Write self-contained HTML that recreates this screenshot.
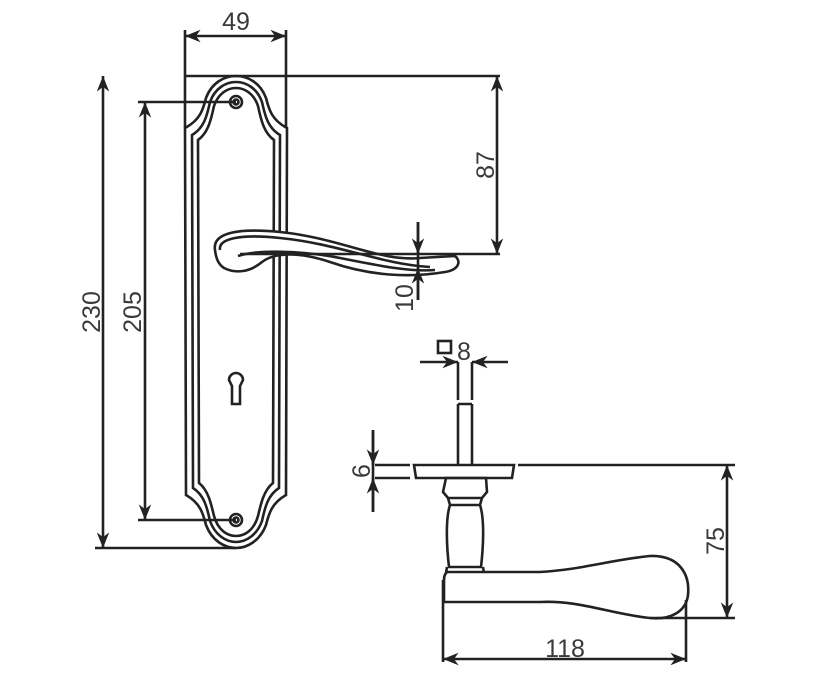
<!DOCTYPE html>
<html><head><meta charset="utf-8"><style>body{margin:0;background:#fff}svg{display:block}text{font-family:"Liberation Sans",sans-serif;font-size:25px;fill:#3a3a3a}</style></head><body>
<svg width="816" height="681" viewBox="0 0 816 681" xmlns="http://www.w3.org/2000/svg">
<defs><marker id="a" viewBox="0 0 10 10" refX="10" refY="5" markerWidth="6" markerHeight="6" orient="auto-start-reverse"><path d="M0,1 L10,5 L0,9 L3,5Z" fill="#222"/></marker></defs>
<g stroke="#222" stroke-width="2.6" fill="none">
<path d="M185,128 C200,120 203,110 206,98 C212,82 225,76 236,76 C247,76 260,82 266,98 C269,110 272,120 287,128 L286,495 C272,503 269,513 266,525 C260,541 247,548 236,548 C225,548 212,541 206,525 C203,513 200,503 186,495 Z"/>
<path d="M192,135 C204,128 207,116 210,102 C215,88 226,82 236,82 C246,82 257,88 262,102 C265,116 268,128 280,135 L279,488 C268,495 265,507 262,521 C257,535 246,542 236,542 C226,542 215,535 210,521 C207,507 204,495 193,488 Z"/>
<path d="M198,140 C208,133 211,120 214,106 C218,94 227,88 236,88 C245,88 254,94 258,106 C261,120 264,133 274,140 L273,483 C264,490 261,503 258,516 C254,530 245,536 236,536 C227,536 218,530 214,516 C211,503 208,490 199,483 Z"/>
<circle cx="236" cy="102" r="6"/><circle cx="236" cy="102" r="2.5"/>
<circle cx="236" cy="520" r="6"/><circle cx="236" cy="520" r="2.5"/>
<path d="M229,380 A7,7 0 1 1 243,380 L240,386 L240,404 L232,404 L232,386 Z"/>
<path d="M215,250 C212,232 240,228 280,232 C340,238 380,262 420,258 L455,256 C462,262 458,270 445,272 C410,278 370,276 330,262 C300,252 275,252 262,262 C250,272 236,274 224,268 C218,264 216,258 215,250Z" fill="#fff"/>
<path d="M220,250 C218,238 242,234 280,238 C340,244 380,264 430,267"/>
<path d="M238,256 C255,250 300,250 340,258 C380,266 410,272 435,270"/>
<path d="M185,30 V128 M286,30 V128 M185,76 H500 M95,548 H236 M138,102 H236 M138,520 H236 M240,254 H500 M418,222 V300"/>
<path d="M185,36 H286" marker-start="url(#a)" marker-end="url(#a)"/>
<path d="M103,76 V548" marker-start="url(#a)" marker-end="url(#a)"/>
<path d="M145,102 V520" marker-start="url(#a)" marker-end="url(#a)"/>
<path d="M497,76 V254" marker-start="url(#a)" marker-end="url(#a)"/>
<path d="M418,222 V254" marker-end="url(#a)"/><path d="M418,300 V268" marker-end="url(#a)"/>
<path d="M458,362 V400 M472,362 V400 M458,404 V465 M472,404 V465 M458,404 H472"/>
<path d="M420,362 H458" marker-end="url(#a)"/><path d="M508,362 H472" marker-end="url(#a)"/>
<rect x="438" y="341" width="13" height="12"/>
<path d="M414,465 H514 L512,478 H416 Z"/>
<path d="M375,465 H410 M375,478 H410 M518,465 H735 M373,430 V512"/>
<path d="M373,430 V465" marker-end="url(#a)"/><path d="M373,512 V478" marker-end="url(#a)"/>
<path d="M446,478 H486 L487,492 L482,498 H448 L443,492 Z"/>
<path d="M448,498 L450,505 H480 L482,498 M450,505 C445,520 447,550 449,567 H481 C483,550 485,520 480,505"/>
<path d="M447,567 L446,573 M483,567 L484,573"/>
<path d="M448,572 H540 C580,570 610,560 650,556 C680,555 690,575 688,595 C686,612 670,620 650,618 C610,614 580,600 540,602 H444 V580 C444,575 446,572 448,572Z"/>
<path d="M443,580 V662 M686,600 V662 M650,618 H735"/>
<path d="M443,659 H686" marker-start="url(#a)" marker-end="url(#a)"/>
<path d="M727,465 V618" marker-start="url(#a)" marker-end="url(#a)"/>
</g>
<text x="236" y="30" text-anchor="middle">49</text>
<text transform="translate(100,312) rotate(-90)" text-anchor="middle">230</text>
<text transform="translate(141,312) rotate(-90)" text-anchor="middle">205</text>
<text transform="translate(494,165) rotate(-90)" text-anchor="middle">87</text>
<text transform="translate(413,298) rotate(-90)" text-anchor="middle">10</text>
<text x="457" y="360">8</text>
<text transform="translate(370,471) rotate(-90)" text-anchor="middle">6</text>
<text transform="translate(724,541) rotate(-90)" text-anchor="middle">75</text>
<text x="565" y="657" text-anchor="middle">118</text>
</svg>
</body></html>
